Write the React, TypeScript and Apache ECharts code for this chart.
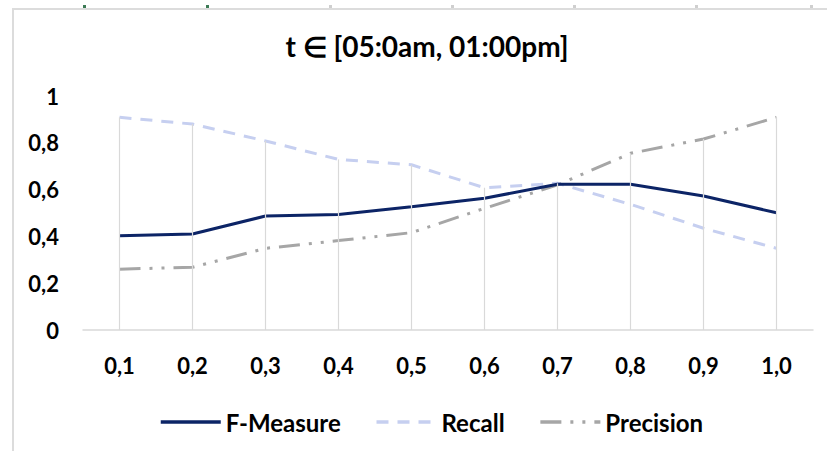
import React, { useEffect, useRef } from "react";
import * as echarts from "echarts";

const categories = ["0,1", "0,2", "0,3", "0,4", "0,5", "0,6", "0,7", "0,8", "0,9", "1,0"];
const fMeasure = [0.403, 0.41, 0.487, 0.494, 0.527, 0.563, 0.623, 0.623, 0.573, 0.501];
const recall = [0.909, 0.88, 0.808, 0.729, 0.706, 0.608, 0.627, 0.537, 0.435, 0.349];
const precision = [0.26, 0.268, 0.349, 0.382, 0.416, 0.52, 0.62, 0.755, 0.816, 0.909];
const yTicks = [0, 0.2, 0.4, 0.6, 0.8, 1];
const titleText = "t \u2208 [05:0am, 01:00pm]";

const FONT = "Lato, 'Open Sans', sans-serif";

export default function App() {
  const ref = useRef<HTMLDivElement>(null);
  useEffect(() => {
    if (!ref.current) return;
    const chart = echarts.init(ref.current, null, { renderer: "svg" });
    const dropTop = categories.map((_, i) => Math.max(fMeasure[i], recall[i], precision[i]));
    const topMarks = [84, 207, 330, 452, 574, 696, 811];
    chart.setOption({
      animation: false,
      backgroundColor: "#ffffff",
      title: {
        text: titleText,
        left: 422,
        top: 27,
        textAlign: "center",
        textStyle: { fontFamily: FONT, fontWeight: "bold", fontSize: 28, color: "#000" },
      },
      legend: {
        left: 154,
        top: 405,
        itemWidth: 60,
        itemHeight: 14,
        itemGap: 34,
        itemStyle: { opacity: 0 },
        lineStyle: { width: 3.5 },
        textStyle: { fontFamily: FONT, fontWeight: "bold", fontSize: 24, color: "#000" },
        data: ["F-Measure", "Recall", "Precision"],
      },
      grid: { left: 83, right: 14, top: 96, bottom: 121, containLabel: false },
      xAxis: {
        type: "category",
        data: categories,
        boundaryGap: true,
        axisLine: { lineStyle: { color: "#d9d9d9", width: 1.5 } },
        axisTick: { show: false },
        axisLabel: { fontFamily: FONT, fontWeight: "bold", fontSize: 22, color: "#000", margin: 24 },
        splitLine: { show: false },
      },
      yAxis: {
        type: "value",
        min: 0,
        max: 1,
        interval: 0.2,
        axisLine: { show: false },
        axisTick: { show: false },
        splitLine: { show: false },
        axisLabel: {
          fontFamily: FONT,
          fontWeight: "bold",
          fontSize: 22,
          color: "#000",
          margin: 24,
          formatter: (v: number) => {
            const t = yTicks.find((k) => Math.abs(k - v) < 1e-6);
            if (t === undefined) return "";
            if (t === 0) return "0";
            if (t === 1) return "1";
            return t.toFixed(1).replace(".", ",");
          },
        },
      },
      series: [
        {
          name: "drop",
          type: "line",
          data: [],
          silent: true,
          markLine: {
            silent: true,
            symbol: "none",
            label: { show: false },
            lineStyle: { color: "#d9d9d9", width: 1.2, type: "solid" },
            data: categories.map((c, i) => [
              { coord: [c, 0] },
              { coord: [c, dropTop[i]] },
            ]),
          },
          z: 1,
        },
        {
          name: "F-Measure",
          type: "line",
          data: fMeasure,
          showSymbol: false,
          symbol: "none",
          lineStyle: { color: "#0c2466", width: 3 },
          itemStyle: { color: "#0c2466" },
          z: 4,
        },
        {
          name: "Recall",
          type: "line",
          data: recall,
          showSymbol: false,
          symbol: "none",
          lineStyle: { color: "#c6cff0", width: 3, type: [12, 9] },
          itemStyle: { color: "#c6cff0" },
          z: 3,
        },
        {
          name: "Precision",
          type: "line",
          data: precision,
          showSymbol: false,
          symbol: "none",
          lineStyle: { color: "#a6a6a6", width: 3, type: [21, 9, 3, 9, 3, 9] },
          itemStyle: { color: "#a6a6a6" },
          z: 2,
        },
      ],
      graphic: [
        { type: "rect", shape: { x: 12, y: 8, width: 815, height: 2 }, style: { fill: "#dcdcdc" }, silent: true },
        { type: "rect", shape: { x: 12, y: 8, width: 2, height: 443 }, style: { fill: "#dcdcdc" }, silent: true },
        ...topMarks.map((x, i) => ({
          type: "rect",
          shape: { x: x - 1, y: 5, width: 3, height: 3 },
          style: { fill: i < 2 ? "#3c7a55" : "#cfcfcf" },
          silent: true,
        })),
      ],
    });
    return () => chart.dispose();
  }, []);
  return (
    <div
      ref={ref}
      style={{ position: "absolute", left: 0, top: 0, width: 827, height: 451, background: "#fff" }}
    />
  );
}
